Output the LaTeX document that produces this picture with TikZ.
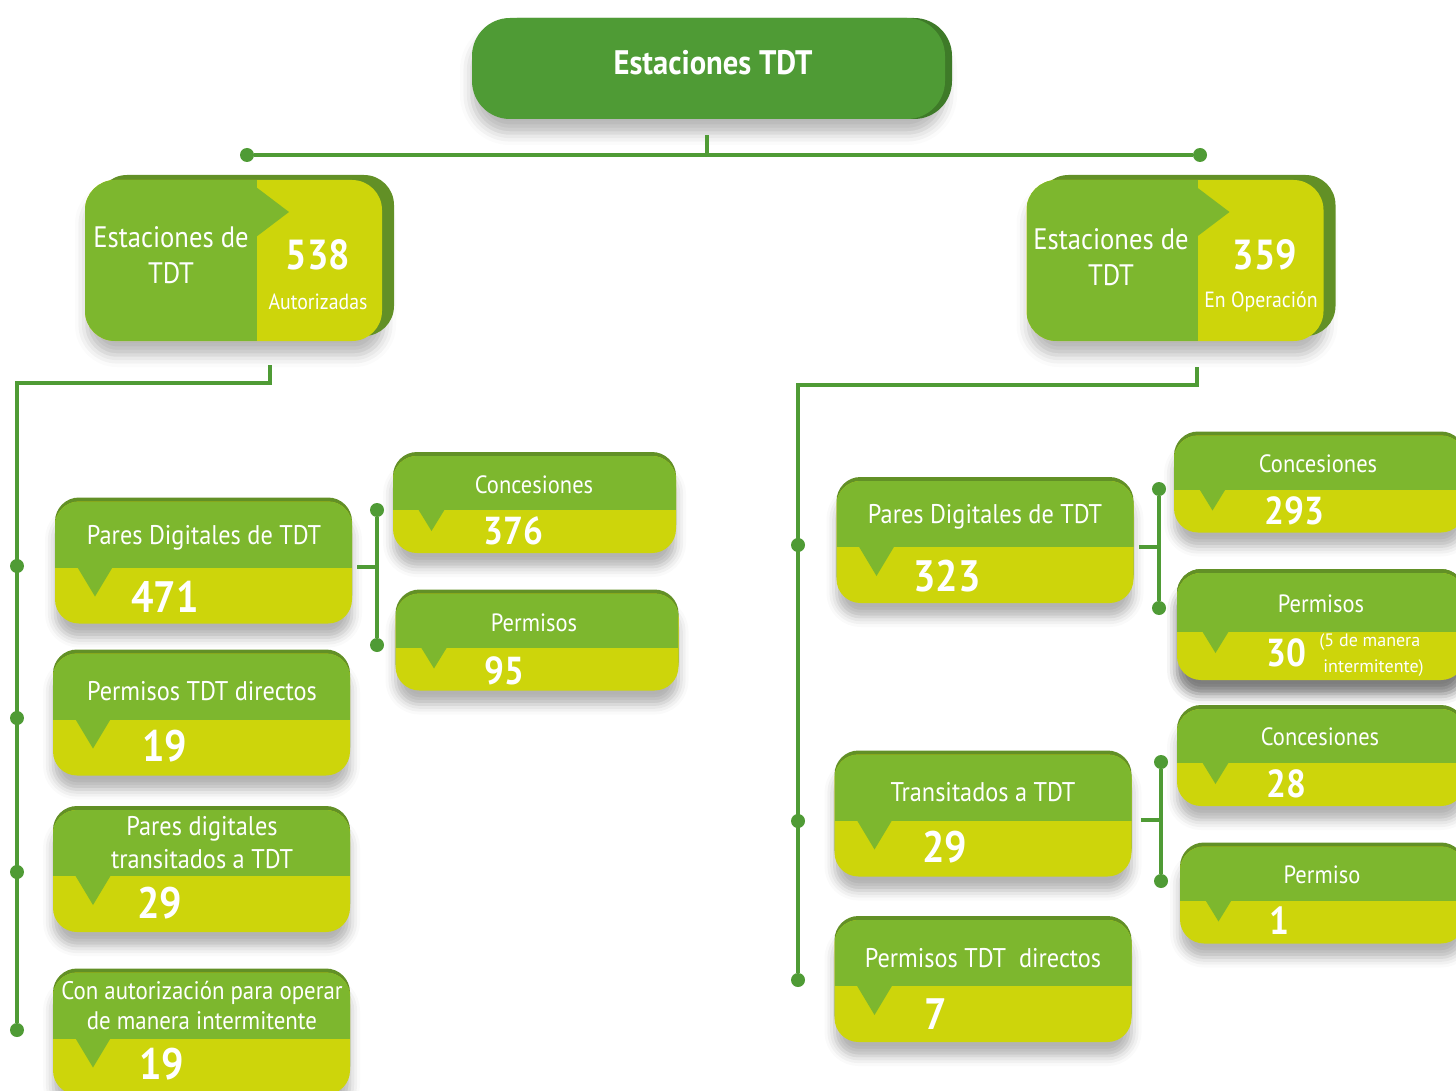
\documentclass[tikz,border=0pt]{standalone}
\usepackage{fontspec}
\setmainfont{PT Sans}[FakeStretch=0.9]
\newfontfamily\notefont{PT Sans}
\usetikzlibrary{shadows.blur}

\definecolor{tdtgreen}{RGB}{79,155,53}
\definecolor{tdtgreendark}{RGB}{62,122,40}
\definecolor{tdtlight}{RGB}{125,183,46}
\definecolor{tdtyellow}{RGB}{205,213,11}
\definecolor{tdtedge}{RGB}{98,144,38}

\begin{document}
\begin{tikzpicture}[x=0.5pt, y=-0.5pt,
    link/.style={draw=tdtgreen, line width=2pt},
    joint/.style={circle, fill=tdtgreen, inner sep=0pt, minimum size=7pt},
    headbox/.style={rounded corners=19pt, fill=tdtgreen, inner sep=0pt,
        minimum width=236.5pt, minimum height=50.5pt,
        blur shadow={shadow xshift=0pt, shadow yshift=-7pt, shadow blur radius=6pt, shadow opacity=28},
        preaction={fill=tdtgreendark, transform canvas={xshift=3.5pt}}},
    statbox/.style={rounded corners=15pt, fill=tdtyellow, inner sep=0pt,
        minimum width=148.5pt, minimum height=80.5pt,
        blur shadow={shadow xshift=1pt, shadow yshift=-7pt, shadow blur radius=6pt, shadow opacity=28},
        preaction={fill=tdtedge, transform canvas={xshift=6pt, yshift=2.5pt}},
        path picture={
            \fill[tdtlight, sharp corners] (path picture bounding box.north west) rectangle ([xshift=#1]path picture bounding box.south west);
            \fill[tdtlight, sharp corners] ([xshift=#1-0.5pt, yshift=-3.5pt]path picture bounding box.north west) -- ++(16.5pt,-12.5pt) -- ++(-16.5pt,-12.5pt) -- cycle;
        }},
    card/.style n args={4}{rounded corners=12pt, fill=tdtyellow, inner sep=0pt,
        blur shadow={shadow xshift=0pt, shadow yshift=-7pt, shadow blur radius=5pt, shadow opacity=30},
        preaction={fill=tdtedge, transform canvas={yshift=2pt}},
        path picture={
            \fill[tdtlight, sharp corners] (path picture bounding box.north west) rectangle ([yshift=-#1]path picture bounding box.north east);
            \fill[tdtlight, sharp corners] ([xshift=#2, yshift=-#1+0.5pt]path picture bounding box.north west) -- ++(#3,0) -- ++(-#3/2,-#4) -- cycle;
        }},
    bigcard/.style={card={33pt}{11pt}{18pt}{15pt}, minimum width=148.5pt, minimum height=61pt},
    subcard/.style={card={27pt}{12.5pt}{13.5pt}{11pt}, minimum width=141.5pt, minimum height=48.5pt},
    ttl/.style={text=white, inner sep=0pt, align=center, font=\fontsize{13.5}{16.5}\selectfont},
    subttl/.style={text=white, inner sep=0pt, align=center, font=\fontsize{12.5}{15}\selectfont},
    num/.style={text=white, inner sep=0pt, anchor=west, font=\fontsize{22}{24}\selectfont\bfseries},
    subnum/.style={text=white, inner sep=0pt, anchor=west, font=\fontsize{19.5}{22}\selectfont\bfseries},
    note/.style={text=white, inner sep=0pt, anchor=west, font=\notefont\fontsize{9}{10}\selectfont}]

    \path[use as bounding box, clip] (0,0) rectangle (1456,1091);

    % boxes
    \node[headbox] (head) at (708.5,68.5) {};
    \node[statbox=86pt] (auth) at (233.5,260.5) {};
    \node[statbox=85.5pt] (oper) at (1175,260.5) {};

    \node[bigcard] (pd1) at (203.5,562.5) {};
    \node[bigcard] (pdir1) at (201.5,714.5) {};
    \node[bigcard] (ptr1) at (201.5,871) {};
    \node[bigcard] (pint1) at (201.5,1033.5) {};
    \node[subcard] (conc1) at (534.5,504.5) {};
    \node[subcard] (perm1) at (537,642) {};

    \node[bigcard] (pd2) at (985,542) {};
    \node[bigcard] (tr2) at (983,815.5) {};
    \node[bigcard] (pdir2) at (983,981) {};
    \node[subcard, minimum width=145.5pt] (conc2) at (1319.5,484) {};
    \node[subcard, minimum width=144pt, minimum height=53.5pt, card={29.5pt}{12.5pt}{13.5pt}{11pt}] (perm2) at (1321,626.5) {};
    \node[subcard, minimum width=144pt] (conc3) at (1321,757.5) {};
    \node[subcard, minimum width=142.5pt] (perm3) at (1322.5,895) {};

    % texts
    \begin{scope}[every node/.style={text=white, inner sep=0pt, align=center}]
        \node[font=\fontsize{17}{18}\selectfont\bfseries] (headtxt) at (713,63) {Estaciones TDT};

        \node[font=\fontsize{14.8}{18}\selectfont] (authtxt) at (171,255) {Estaciones de\\TDT};
        \node[font=\fontsize{21}{22}\selectfont\bfseries] (authnum) at (318,255) {538};
        \node[font=\fontsize{11}{12}\selectfont] (authsub) at (318,302) {Autorizadas};

        \node[font=\fontsize{14.8}{18}\selectfont] (opertxt) at (1111,257) {Estaciones de\\TDT};
        \node[font=\fontsize{21}{22}\selectfont\bfseries] (opernum) at (1265,255) {359};
        \node[font=\fontsize{11}{12}\selectfont] (opersub) at (1261,302) {En Operación};
    \end{scope}

    \node[ttl] (pd1txt) at (204,538) {Pares Digitales de TDT};
    \node[num] (pd1num) at (131,597) {471};
    \node[ttl] (pdir1txt) at (202,691) {Permisos TDT directos};
    \node[num] (pdir1num) at (142,746) {19};
    \node[ttl] (ptr1txt) at (202,843) {Pares digitales\\transitados a TDT};
    \node[num] (ptr1num) at (137,903) {29};
    \node[ttl, font=\fontsize{12.7}{15}\selectfont] (pint1txt) at (202,1005) {Con autorización para operar\\de manera intermitente};
    \node[num] (pint1num) at (139,1064) {19};

    \node[subttl] (conc1txt) at (534,485) {Concesiones};
    \node[subnum] (conc1num) at (483,531) {376};
    \node[subttl] (perm1txt) at (534,623) {Permisos};
    \node[subnum] (perm1num) at (484,671) {95};

    \node[ttl] (pd2txt) at (985,517) {Pares Digitales de TDT};
    \node[num] (pd2num) at (913,576) {323};
    \node[ttl] (tr2txt) at (983,792) {Transitados a TDT};
    \node[num] (tr2num) at (922,847) {29};
    \node[ttl] (pdir2txt) at (983,958) {Permisos TDT\ \ directos};
    \node[num] (pdir2num) at (924,1014) {7};

    \node[subttl] (conc2txt) at (1318,464) {Concesiones};
    \node[subnum] (conc2num) at (1264,511) {293};
    \node[subttl] (perm2txt) at (1321,604) {Permisos};
    \node[subnum] (perm2num) at (1266,653) {30};
    \node[note] (perm2note1) at (1319,642) {(5 de manera};
    \node[note] (perm2note2) at (1323,668) {intermitente)};
    \node[subttl] (conc3txt) at (1320,737) {Concesiones};
    \node[subnum] (conc3num) at (1266,784) {28};
    \node[subttl] (perm3txt) at (1322,875) {Permiso};
    \node[subnum] (perm3num) at (1269,921) {1};

    % connectors
    \coordinate (hstub) at ([xshift=-0.75pt, yshift=-8pt]head.south);
    \coordinate (hjoin) at (707,155);
    \node[joint] (hl) at (247,155) {};
    \node[joint] (hr) at (1200,155) {};
    \draw[link] (hl) -- (hr);
    \draw[link] (hstub) -- (hjoin);

    \coordinate (lstub) at ([xshift=18.25pt, yshift=-12pt]auth.south);
    \coordinate (lcorner) at (17,383);
    \node[joint] (ld1) at (17,566) {};
    \node[joint] (ld2) at (17,718) {};
    \node[joint] (ld3) at (17,872) {};
    \node[joint] (ld4) at (17,1030) {};
    \draw[link] (lstub) |- (lcorner) -- (ld4);

    \coordinate (rstub) at ([xshift=11pt, yshift=-13pt]oper.south);
    \coordinate (rcorner) at (798,385);
    \node[joint] (rd1) at (798,545) {};
    \node[joint] (rd2) at (798,821) {};
    \node[joint] (rd3) at (798,980) {};
    \draw[link] (rstub) |- (rcorner) -- (rd3);

    \node[joint] (lb1) at (377,510) {};
    \node[joint] (lb2) at (377,645) {};
    \coordinate (lbmid) at (377,567);
    \draw[link] (lb1) -- (lb2);
    \draw[link] ([xshift=2.5pt]pd1.east |- lbmid) -- (lbmid);

    \node[joint] (rb1) at (1159,489) {};
    \node[joint] (rb2) at (1159,608) {};
    \coordinate (rbmid) at (1159,547);
    \draw[link] (rb1) -- (rb2);
    \draw[link] ([xshift=2.5pt]pd2.east |- rbmid) -- (rbmid);

    \node[joint] (rc1) at (1161,762) {};
    \node[joint] (rc2) at (1161,881) {};
    \coordinate (rcmid) at (1161,820);
    \draw[link] (rc1) -- (rc2);
    \draw[link] ([xshift=4.5pt]tr2.east |- rcmid) -- (rcmid);

\end{tikzpicture}
\end{document}
